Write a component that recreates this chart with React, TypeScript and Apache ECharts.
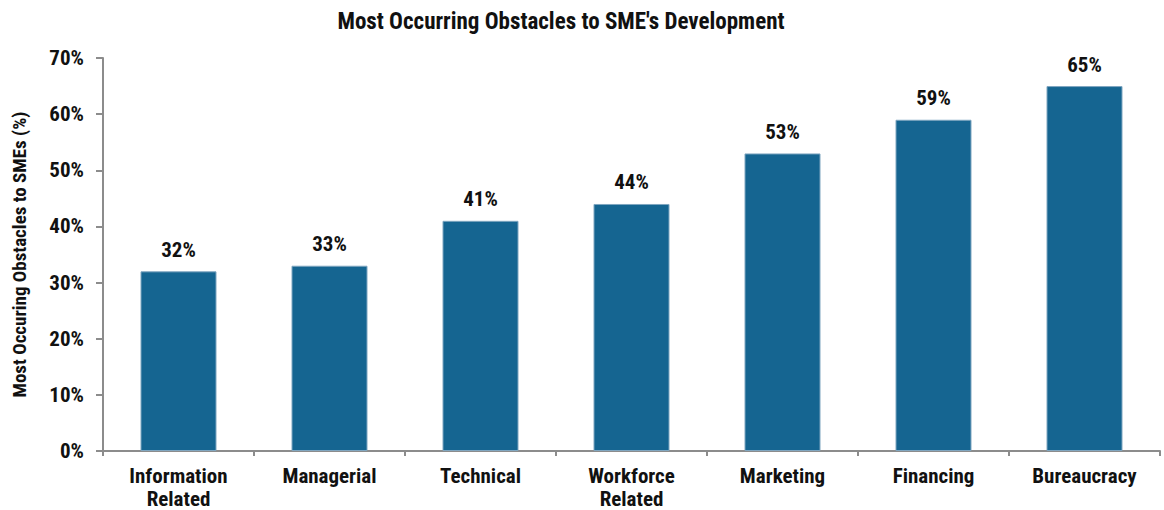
import React, { useEffect, useRef } from "react";
import * as echarts from "echarts";

const categories = ["Information\nRelated", "Managerial", "Technical", "Workforce\nRelated", "Marketing", "Financing", "Bureaucracy"];
const values = [32, 33, 41, 44, 53, 59, 65];
const yTicks = { min: 0, max: 70, interval: 10 };

const FONT = "'Roboto Condensed', 'Liberation Sans', Arial, sans-serif";

export default function App() {
  const ref = useRef<HTMLDivElement>(null);
  useEffect(() => {
    if (!ref.current) return;
    const chart = echarts.init(ref.current, null, { renderer: "svg" });
    chart.setOption({
      animation: false,
      backgroundColor: "#ffffff",
      title: {
        text: "Most Occurring Obstacles to SME's Development",
        left: 556,
        top: 5,
        textAlign: "center",
        textStyle: { fontFamily: FONT, fontSize: 23, fontWeight: "bold", color: "#111" },
      },
      grid: { left: 103, right: 4, top: 58, bottom: 59, containLabel: false, outerBoundsMode: "none" },
      xAxis: {
        type: "category",
        data: categories,
        axisLine: { lineStyle: { color: "#8c8c8c", width: 2 } },
        axisTick: { show: true, length: 5, lineStyle: { color: "#8c8c8c", width: 2 }, alignWithLabel: false },
        axisLabel: {
          fontFamily: FONT,
          fontSize: 21,
          fontWeight: "bold",
          color: "#111",
          margin: 13,
          lineHeight: 23,
          interval: 0,
        },
      },
      yAxis: {
        type: "value",
        min: yTicks.min,
        max: yTicks.max,
        interval: yTicks.interval,
        name: "Most Occuring Obstacles to SMEs (%)",
        nameLocation: "middle",
        nameGap: 74,
        nameTextStyle: { fontFamily: FONT, fontSize: 19, fontWeight: "bold", color: "#111" },
        axisLine: { show: true, lineStyle: { color: "#8c8c8c", width: 2 } },
        axisTick: { show: true, length: 7, lineStyle: { color: "#8c8c8c", width: 2 } },
        splitLine: { show: false },
        axisLabel: {
          fontFamily: FONT,
          fontSize: 21,
          fontWeight: "bold",
          color: "#111",
          margin: 19,
          formatter: (v: number) => `${v}%`,
        },
      },
      series: [
        {
          type: "bar",
          data: values,
          barWidth: 76,
          itemStyle: { color: "#156591", borderColor: "#7fa6c0", borderWidth: 1 },
          label: {
            show: true,
            position: "top",
            distance: 11,
            fontFamily: FONT,
            fontSize: 21,
            fontWeight: "bold",
            color: "#111",
            formatter: (p: any) => `${p.value}%`,
          },
        },
      ],
    });
    return () => chart.dispose();
  }, []);
  return <div ref={ref} style={{ width: 1164, height: 510, position: "absolute", left: 0, top: 0 }} />;
}
